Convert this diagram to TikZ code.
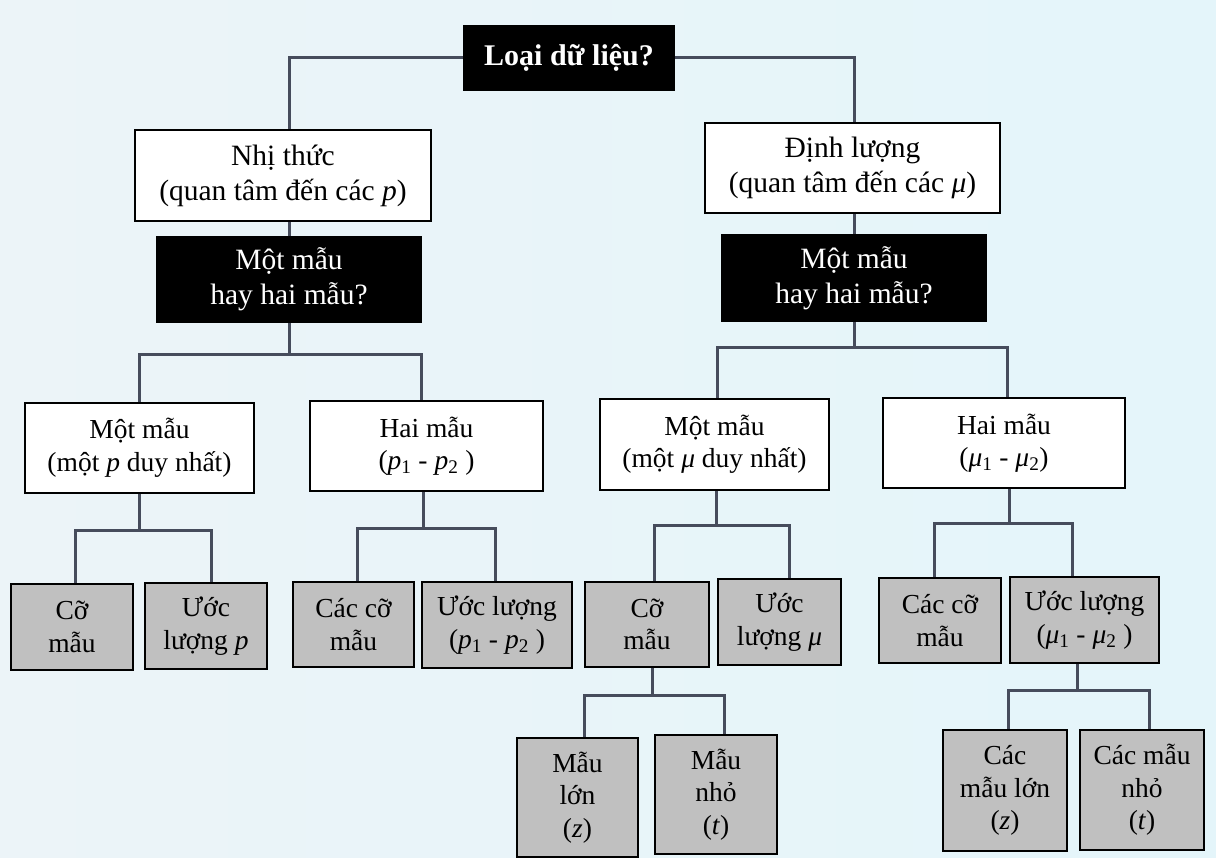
\documentclass[tikz,border=0pt]{standalone}
\usepackage{fontspec}
\setmainfont{Liberation Serif}
\definecolor{conncol}{RGB}{70,76,92}
\definecolor{graybox}{RGB}{192,192,192}
\definecolor{bgL}{RGB}{236,244,248}
\definecolor{bgM}{RGB}{250,251,252}
\definecolor{bgR}{RGB}{228,245,250}
\tikzset{
  conn/.style={draw=conncol, line width=3pt},
  wbox/.style={draw=black, line width=1.8pt, fill=white, inner sep=0pt, align=center},
  bbox/.style={fill=black, text=white, inner sep=0pt, align=center},
  gbox/.style={draw=black, line width=1.8pt, fill=graybox, inner sep=0pt, align=center},
  sz/.style 2 args={minimum width=#1pt, minimum height=#2pt},
  big/.style={font=\fontsize{29.5}{35}\selectfont},
  mid/.style={font=\fontsize{27.5}{32.5}\selectfont}
}
\newcommand{\ip}{\textit{p}}
\newcommand{\imu}{\textit{μ}}
\begin{document}
\begin{tikzpicture}[x=1pt,y=-1pt]
\shade[left color=bgL, middle color=bgM, right color=bgR] (0,0) rectangle (1216,858);
\useasboundingbox (0,0) rectangle (1216,858);

% level 0
\node[bbox, sz={212}{66}, font=\fontsize{30}{35}\selectfont\bfseries] (top) at (569,58) {Loại dữ liệu?};
% level 1
\node[wbox, sz={296}{91}, big] (nhi) at (283,175.5) {Nhị thức\\(quan tâm đến các \ip)};
\node[wbox, sz={295}{90}, big] (dinh) at (852.5,168) {Định lượng\\(quan tâm đến các \imu)};
% questions
\node[bbox, sz={266}{87}, big] (q1) at (289,279.5) {Một mẫu\\hay hai mẫu?};
\node[bbox, sz={266}{88}, big] (q2) at (854,278) {Một mẫu\\hay hai mẫu?};
% level 2
\node[wbox, sz={229}{90}, mid] (a1) at (139.5,448) {Một mẫu\\(một \ip{} duy nhất)};
\node[wbox, sz={233}{90}, mid] (a2) at (426.5,446) {Hai mẫu\\(\ip\textsubscript{1} - \ip\textsubscript{2} )};
\node[wbox, sz={229}{91}, mid] (b1) at (714.5,444.5) {Một mẫu\\(một \imu{} duy nhất)};
\node[wbox, sz={242}{90}, mid] (b2) at (1004,443) {Hai mẫu\\(\imu\textsubscript{1} - \imu\textsubscript{2})};
% level 3 (gray)
\node[gbox, sz={122}{86}, mid] (c1) at (72,627) {Cỡ\\mẫu};
\node[gbox, sz={122}{86}, mid] (c2) at (206,626) {Ước\\lượng \ip};
\node[gbox, sz={121}{85}, mid] (c3) at (353.5,624.5) {Các cỡ\\mẫu};
\node[gbox, sz={150}{86}, mid] (c4) at (497,625) {Ước lượng\\(\ip\textsubscript{1} - \ip\textsubscript{2} )};
\node[gbox, sz={124}{85}, mid] (c5) at (647,624.5) {Cỡ\\mẫu};
\node[gbox, sz={123}{86}, mid] (c6) at (779.5,622) {Ước\\lượng \imu};
\node[gbox, sz={122}{85}, mid] (c7) at (940,620.5) {Các cỡ\\mẫu};
\node[gbox, sz={149}{86}, mid] (c8) at (1084.5,620) {Ước lượng\\(\imu\textsubscript{1} - \imu\textsubscript{2} )};
% level 4 (gray)
\node[gbox, sz={121}{119}, mid] (d1) at (577.5,797.5) {Mẫu\\lớn\\(\textit{z})};
\node[gbox, sz={122}{119}, mid] (d2) at (716,794.5) {Mẫu\\nhỏ\\(\textit{t})};
\node[gbox, sz={124}{121}, mid] (d3) at (1005,790.5) {Các\\mẫu lớn\\(\textit{z})};
\node[gbox, sz={124}{120}, mid] (d4) at (1142,790) {Các mẫu\\nhỏ\\(\textit{t})};

% junction levels
\coordinate (j0) at (0,355);
\coordinate (j1) at (0,348);
\coordinate (ja1) at (0,530);
\coordinate (ja2) at (0,528);
\coordinate (jb1) at (0,525);
\coordinate (jb2) at (0,523);
\coordinate (jc5) at (0,695);
\coordinate (jc8) at (0,690);

% connectors
\draw[conn] (top.west) -| (q1.north |- nhi.north);
\draw[conn] (top.east) -| (q2.north |- dinh.north);
\draw[conn] (q1.north) -- (q1.north |- nhi.south);
\draw[conn] (q2.north) -- (q2.north |- dinh.south);

\draw[conn] (q1.south) -- (q1.south |- j0);
\draw[conn] (a1.north) |- (q1.south |- j0) -| ([xshift=-5.5pt]a2.north);
\draw[conn] (q2.south) -- (q2.south |- j1);
\draw[conn] ([xshift=2.5pt]b1.north) |- (q2.south |- j1) -| ([xshift=3pt]b2.north);

\draw[conn] (a1.south) -- (a1.south |- ja1);
\draw[conn] ([xshift=3pt]c1.north) |- (a1.south |- ja1) -| ([xshift=5pt]c2.north);
\draw[conn] ([xshift=-3.5pt]a2.south) -- ([xshift=-3.5pt]a2.south |- ja2);
\draw[conn] ([xshift=3.5pt]c3.north) |- ([xshift=-3.5pt]a2.south |- ja2) -| ([xshift=-2pt]c4.north);
\draw[conn] ([xshift=1.5pt]b1.south) -- ([xshift=1.5pt]b1.south |- jb1);
\draw[conn] ([xshift=7pt]c5.north) |- ([xshift=1.5pt]b1.south |- jb1) -| ([xshift=9.5pt]c6.north);
\draw[conn] ([xshift=5pt]b2.south) -- ([xshift=5pt]b2.south |- jb2);
\draw[conn] ([xshift=-6pt]c7.north) |- ([xshift=5pt]b2.south |- jb2) -| ([xshift=-12.5pt]c8.north);

\draw[conn] ([xshift=5pt]c5.south) -- ([xshift=5pt]c5.south |- jc5);
\draw[conn] ([xshift=6.5pt]d1.north) |- ([xshift=5pt]c5.south |- jc5) -| ([xshift=8pt]d2.north);
\draw[conn] ([xshift=-7.5pt]c8.south) -- ([xshift=-7.5pt]c8.south |- jc8);
\draw[conn] ([xshift=3pt]d3.north) |- ([xshift=-7.5pt]c8.south |- jc8) -| ([xshift=7pt]d4.north);
\end{tikzpicture}
\end{document}
